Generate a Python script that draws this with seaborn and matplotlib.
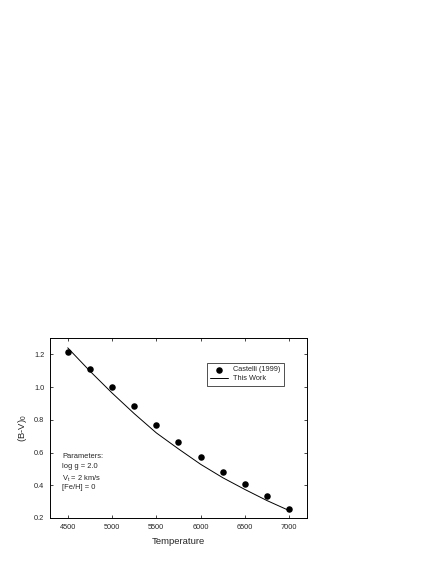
import matplotlib
matplotlib.use("Agg")
import matplotlib.pyplot as plt
import seaborn as sns
import pandas as pd

# Castelli (1999) colours
temps = [4500, 4750, 5000, 5250, 5500, 5750, 6000, 6250, 6500, 6750, 7000]
castelli_bv = [1.213, 1.113, 1.001, 0.884, 0.771, 0.667, 0.571, 0.483, 0.405, 0.332, 0.254]

# this work (model curve)
work_bv = [1.240, 1.098, 0.964, 0.838, 0.720, 0.622, 0.528, 0.446, 0.374, 0.306, 0.245]

x_ticks = [4500, 5000, 5500, 6000, 6500, 7000]
y_ticks = [0.2, 0.4, 0.6, 0.8, 1.0, 1.2]

param_lines = ["Parameters:", "log g = 2.0", "V$_t$ = 2 km/s", "[Fe/H] = 0"]

sns.set_style("ticks")
plt.rcParams["font.family"] = ["Liberation Sans", "DejaVu Sans"]
plt.rcParams["mathtext.fontset"] = "custom"
plt.rcParams["mathtext.rm"] = "Liberation Sans"
plt.rcParams["mathtext.it"] = "Liberation Sans"

df_pts = pd.DataFrame({"T": temps, "bv": castelli_bv})
df_line = pd.DataFrame({"T": temps, "bv": work_bv})

fig = plt.figure(figsize=(4.36, 5.64), dpi=100)
ax = fig.add_axes([0.1147, 0.0816, 0.5894, 0.3191])

sns.scatterplot(data=df_pts, x="T", y="bv", ax=ax, color="black", s=22,
                edgecolor="black", linewidth=0, label="Castelli (1999)", zorder=3)
sns.lineplot(data=df_line, x="T", y="bv", ax=ax, color="black", linewidth=0.7,
             label="This Work")

ax.set_xlim(4300, 7200)
ax.set_ylim(0.2, 1.3)
ax.set_xticks(x_ticks)
ax.set_yticks(y_ticks)
ax.set_yticklabels([f"{v:.1f}" for v in y_ticks])
ax.tick_params(direction="in", length=2.5, width=0.6, labelsize=5.3,
               top=True, right=True, pad=4)
for sp in ax.spines.values():
    sp.set_linewidth(0.7)
    sp.set_color("black")

ax.set_xlabel("Temperature", fontsize=6.8, labelpad=5)
ax.set_ylabel("(B-V)$_0$", fontsize=6.8, labelpad=4)

leg = ax.legend(loc="upper left", bbox_to_anchor=(0.611, 0.861), fontsize=5.3,
                frameon=True, fancybox=False, borderpad=0.45, handlelength=2.4,
                handletextpad=0.7, labelspacing=0.25, borderaxespad=0)
leg.get_frame().set_edgecolor("black")
leg.get_frame().set_linewidth(0.6)

# parameter block, one line per text
for i, line in enumerate(param_lines):
    ax.text(0.047, 0.36 - i * 0.057, line, transform=ax.transAxes,
            fontsize=5.4, va="top", ha="left")

fig.savefig("out.png", dpi=100)
